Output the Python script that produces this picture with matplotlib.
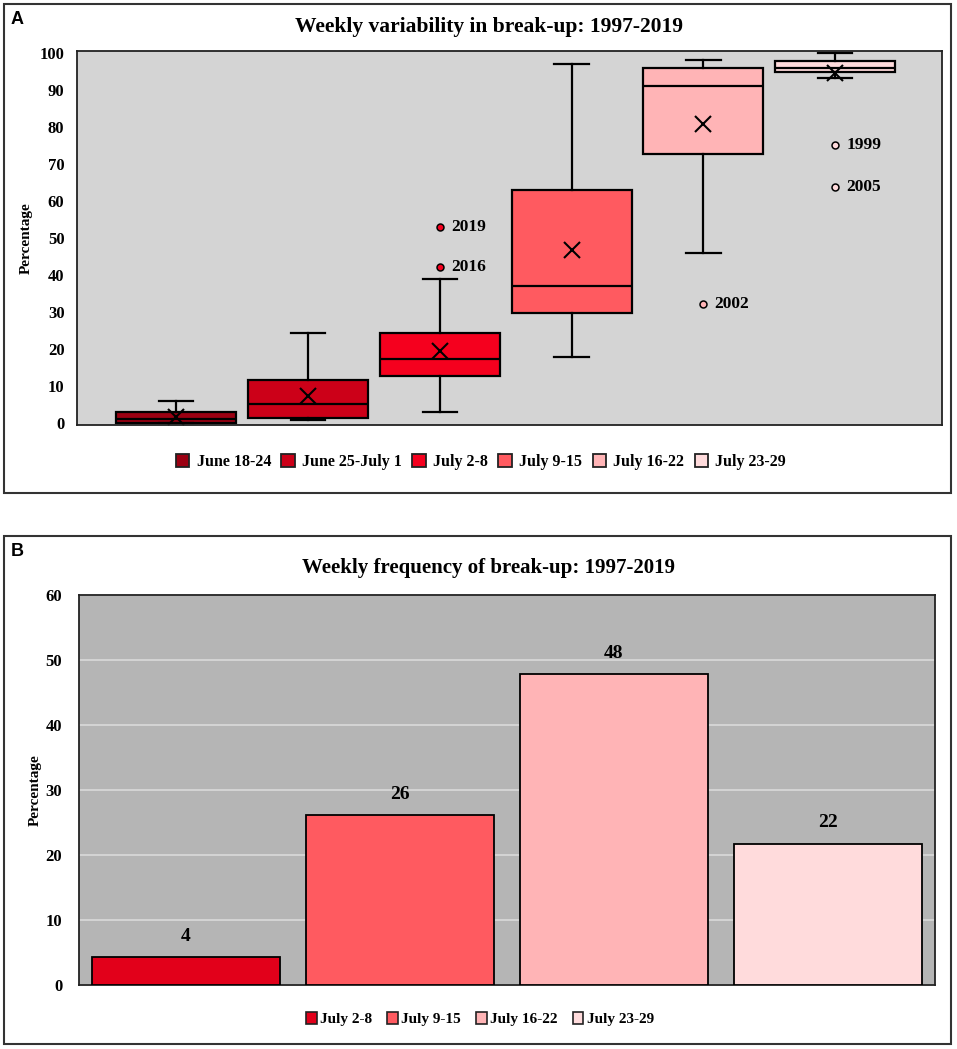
import matplotlib
matplotlib.use('Agg')
import matplotlib.pyplot as plt
from matplotlib.patches import Rectangle, Patch

# ---------------- data ----------------
weeks_a = ["June 18-24", "June 25-July 1", "July 2-8", "July 9-15", "July 16-22", "July 23-29"]
colors_a = ["#9B0012", "#CC0018", "#F5001E", "#FF5A60", "#FFB4B6", "#FFDBDC"]
whislo = [0.0, 0.8, 3.0, 17.8, 46.0, 93.3]
q1 = [0.1, 1.4, 12.7, 29.7, 72.7, 94.9]
med = [1.0, 5.1, 17.2, 37.0, 91.0, 95.9]
q3 = [3.0, 11.6, 24.3, 63.0, 96.0, 97.9]
whishi = [6.0, 24.3, 39.0, 97.0, 98.0, 100.0]
means = [1.7, 7.3, 19.5, 46.8, 80.8, 94.6]
outliers = [[], [], [53.0, 42.2], [], [32.2], [75.0, 63.8]]
outlier_years = [[], [], ["2019", "2016"], [], ["2002"], ["1999", "2005"]]

weeks_b = ["July 2-8", "July 9-15", "July 16-22", "July 23-29"]
colors_b = ["#E2001A", "#FF5A60", "#FFB4B6", "#FFDBDC"]
freq_b = [4.3, 26.1, 47.8, 21.7]
freq_labels = ["4", "26", "48", "22"]

# ---------------- figure ----------------
W, H = 957, 1049
fig = plt.figure(figsize=(W / 100, H / 100), dpi=100)
serif = "Liberation Serif"


def fx(px):
    return px / W


def fy(py):
    return 1 - py / H


# panel frames
for (x0, y0, x1, y1) in [(4, 4, 951, 493), (4, 536, 951, 1044)]:
    fig.patches.append(Rectangle((fx(x0), fy(y1)), fx(x1) - fx(x0), fy(y0) - fy(y1),
                                 transform=fig.transFigure, fill=False,
                                 edgecolor="#333333", linewidth=1.5, zorder=0))

fig.text(fx(11), fy(20), "A", fontsize=13, fontweight="bold", family="Liberation Sans", va="center")
fig.text(fx(11), fy(552), "B", fontsize=13, fontweight="bold", family="Liberation Sans", va="center")

# ---------------- Panel A ----------------
axA = fig.add_axes([fx(77), fy(425), fx(942) - fx(77), fy(51) - fy(425)])
axA.set_facecolor("#D4D4D4")
stats = []
for i in range(len(weeks_a)):
    stats.append(dict(med=med[i], q1=q1[i], q3=q3[i], whislo=whislo[i], whishi=whishi[i],
                      mean=means[i], fliers=outliers[i], label=weeks_a[i]))
pos = list(range(len(weeks_a)))
bp = axA.bxp(stats, positions=pos, widths=0.91, patch_artist=True, showmeans=True,
             showfliers=True, capwidths=0.26,
             boxprops=dict(edgecolor="black", linewidth=1.6),
             medianprops=dict(color="black", linewidth=1.6),
             whiskerprops=dict(color="black", linewidth=1.6),
             capprops=dict(color="black", linewidth=1.6),
             meanprops=dict(marker="x", markeredgecolor="black", markersize=11, markeredgewidth=1.5),
             flierprops=dict(marker="o", markersize=5, markeredgecolor="black", markeredgewidth=1.1))
for patch, c in zip(bp["boxes"], colors_a):
    patch.set_facecolor(c)
for fl, c in zip(bp["fliers"], colors_a):
    fl.set_markerfacecolor(c)
for i in range(len(weeks_a)):
    for v, yr in zip(outliers[i], outlier_years[i]):
        axA.annotate(yr, (pos[i], v), xytext=(8, 0), textcoords="offset points",
                     va="center", ha="left", fontsize=12.5, fontweight="bold", family=serif)
axA.set_xlim(-0.751, 5.81)
axA.set_ylim(-0.5, 100.5)
axA.set_yticks(range(0, 101, 10))
axA.set_xticks([])
axA.tick_params(axis="y", length=0, pad=9)
for lab in axA.get_yticklabels():
    lab.set_fontfamily(serif)
    lab.set_fontweight("bold")
    lab.set_fontsize(12)
for s in axA.spines.values():
    s.set_color("#222222")
    s.set_linewidth(1.3)
axA.set_ylabel("Percentage", fontsize=11, fontweight="bold", family=serif, labelpad=5)
fig.text(0.511, fy(27), "Weekly variability in break-up: 1997-2019", ha="center", va="center",
         fontsize=15.5, fontweight="bold", family=serif)
handlesA = [Patch(facecolor=c, edgecolor="#222222", linewidth=1.3, label=w) for c, w in zip(colors_a, weeks_a)]
fig.legend(handles=handlesA, loc="center", bbox_to_anchor=(fx(481), fy(462)), ncol=6, frameon=False,
           prop=dict(family=serif, weight="bold", size=11.5), handlelength=0.85, handleheight=0.9,
           handletextpad=0.45, columnspacing=0.65)

# ---------------- Panel B ----------------
axB = fig.add_axes([fx(79), fy(985), fx(935) - fx(79), fy(595) - fy(985)])
axB.set_facecolor("#B5B5B5")
xb = list(range(len(weeks_b)))
bars = axB.bar(xb, freq_b, width=0.875, color=colors_b, edgecolor="black", linewidth=1.3, zorder=3)
axB.bar_label(bars, labels=freq_labels, padding=9, fontsize=14, fontweight="bold", family=serif)
axB.set_xlim(-0.5, 3.5)
axB.set_ylim(0, 60)
axB.set_yticks(range(0, 61, 10))
axB.set_xticks([])
axB.grid(axis="y", color="#DADADA", linewidth=1.2, zorder=0)
axB.set_axisbelow(True)
axB.tick_params(axis="y", length=0, pad=12)
for lab in axB.get_yticklabels():
    lab.set_fontfamily(serif)
    lab.set_fontweight("bold")
    lab.set_fontsize(12)
for s in axB.spines.values():
    s.set_color("#222222")
    s.set_linewidth(1.3)
axB.set_ylabel("Percentage", fontsize=11, fontweight="bold", family=serif, labelpad=3)
fig.text(0.51, fy(568), "Weekly frequency of break-up: 1997-2019", ha="center", va="center",
         fontsize=15, fontweight="bold", family=serif)
handlesB = [Patch(facecolor=c, edgecolor="#222222", linewidth=1.2, label=w) for c, w in zip(colors_b, weeks_b)]
fig.legend(handles=handlesB, loc="center", bbox_to_anchor=(fx(480), fy(1019)), ncol=4, frameon=False,
           prop=dict(family=serif, weight="bold", size=11), handlelength=0.7, handleheight=0.8,
           handletextpad=0.2, columnspacing=1.0)

fig.savefig("out.png", dpi=100)
